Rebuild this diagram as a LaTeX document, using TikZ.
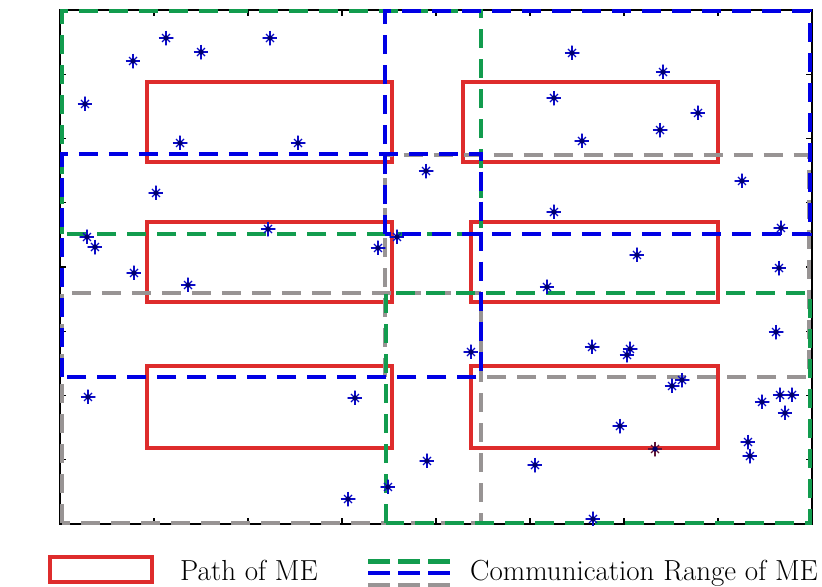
\documentclass[tikz,border=0pt]{standalone}
\usepackage{tikz}
\definecolor{pathred}{RGB}{222,44,44}
\definecolor{rangegreen}{RGB}{18,156,78}
\definecolor{rangeblue}{RGB}{0,0,228}
\definecolor{rangegrey}{RGB}{152,148,148}
\definecolor{sensorblue}{RGB}{10,10,200}
\definecolor{sensordark}{RGB}{0,0,110}
\definecolor{sensorodd}{RGB}{95,20,55}

\begin{document}
\begin{tikzpicture}[x=94pt, y=64.25pt,
    pathme/.style={draw=pathred, line width=4pt},
    rangeme/.style={line width=4pt, dash pattern=on 19pt off 11pt},
    keyline/.style={line width=4.5pt, dash pattern=on 22pt off 8pt},
    keytext/.style={anchor=base west, inner sep=0pt, font=\fontsize{29}{34}\selectfont},
    sensor/.style={circle, inner sep=0pt, minimum size=15pt,
        path picture={
            \draw[#1, line width=1.4pt] (path picture bounding box.north) -- (path picture bounding box.south)
                (path picture bounding box.west) -- (path picture bounding box.east);
            \draw[#1, line width=1.2pt] ([shift={(-4pt,-4pt)}]path picture bounding box.center) -- ([shift={(4pt,4pt)}]path picture bounding box.center)
                ([shift={(-4pt,4pt)}]path picture bounding box.center) -- ([shift={(4pt,-4pt)}]path picture bounding box.center);
            \fill[sensordark] (path picture bounding box.center) circle (2.6pt);
        }},
    sensor/.default=sensorblue]
    \useasboundingbox (-0.6383,-0.9805) rectangle (8.1064,8.1556);

    % Axes and ticks
    \draw[black, line width=1.2pt] (0,0) rectangle (8,8);
    \foreach \t in {1,...,7} {
        \draw[black, line width=1.2pt] (\t,0) -- ([yshift=6pt]\t,0);
        \draw[black, line width=1.2pt] (\t,8) -- ([yshift=-6pt]\t,8);
        \draw[black, line width=1.2pt] (0,\t) -- ([xshift=6pt]0,\t);
        \draw[black, line width=1.2pt] (8,\t) -- ([xshift=-6pt]8,\t);
    }

    % Paths of ME
    \draw[pathme] (0.93,5.63) rectangle (3.53,6.88);
    \draw[pathme] (0.93,3.46) rectangle (3.53,4.70);
    \draw[pathme] (0.93,1.18) rectangle (3.53,2.46);
    \draw[pathme] (4.29,5.63) rectangle (7.00,6.88);
    \draw[pathme] (4.37,3.46) rectangle (7.00,4.70);
    \draw[pathme] (4.37,1.18) rectangle (7.00,2.46);

    % Communication ranges
    \draw[rangeme, rangegrey] (3.46,2.29) rectangle (7.97,5.74);
    \draw[rangeme, rangegrey] (0.02,0.02) rectangle (4.48,3.60);
    \draw[rangeme, rangegreen] (0.02,4.51) rectangle (4.48,7.98);
    \draw[rangeme, rangegreen] (3.47,0.02) rectangle (7.98,3.60);
    \draw[rangeme, rangeblue] (3.46,4.51) rectangle (7.98,7.98);
    \draw[rangeme, rangeblue] (0.02,2.29) rectangle (4.48,5.76);

    % Sensor nodes
    \foreach \x/\y [count=\i] in {1.128/7.564, 1.500/7.346, 2.234/7.564, 0.777/7.206, 0.266/6.537,
        1.277/5.930, 2.532/5.930, 1.021/5.152, 2.213/4.591, 0.287/4.467, 0.372/4.311,
        3.383/4.296, 3.585/4.467, 0.787/3.907, 1.362/3.720, 3.894/5.494,
        5.447/7.331, 6.415/7.035, 5.255/6.630, 6.787/6.397, 6.383/6.132, 5.553/5.961,
        7.255/5.339, 5.255/4.856, 7.670/4.607, 6.138/4.187, 7.649/3.984, 5.181/3.689,
        0.298/1.977, 3.138/1.961, 3.904/0.981, 3.489/0.576, 3.064/0.389,
        7.617/2.988, 4.372/2.677, 5.660/2.755, 6.064/2.724, 6.032/2.630, 6.511/2.148,
        6.617/2.241, 7.468/1.899, 7.660/2.008, 7.787/2.008, 7.713/1.728, 5.957/1.525,
        7.319/1.276, 7.340/1.058, 5.053/0.918, 5.670/0.078}
        \node[sensor] (s\i) at (\x,\y) {};
    \node[sensor=sensorodd] (s50) at (6.330,1.167) {};

    % Legend
    \draw[pathme] (-0.106,-0.514) rectangle (0.979,-0.903);
    \node[keytext] (pathtext) at (1.277,-0.887) {Path of ME};
    \coordinate (greenkey) at (3.277,-0.58);
    \coordinate (bluekey) at (3.277,-0.76);
    \coordinate (greykey) at (3.277,-0.95);
    \draw[keyline, rangegreen] (greenkey) -- ++(82pt,0);
    \draw[keyline, rangeblue] (bluekey) -- ++(82pt,0);
    \draw[keyline, rangegrey] (greykey) -- ++(82pt,0);
    \node[keytext] (rangetext) at (4.362,-0.887) {Communication Range of ME};
\end{tikzpicture}
\end{document}
